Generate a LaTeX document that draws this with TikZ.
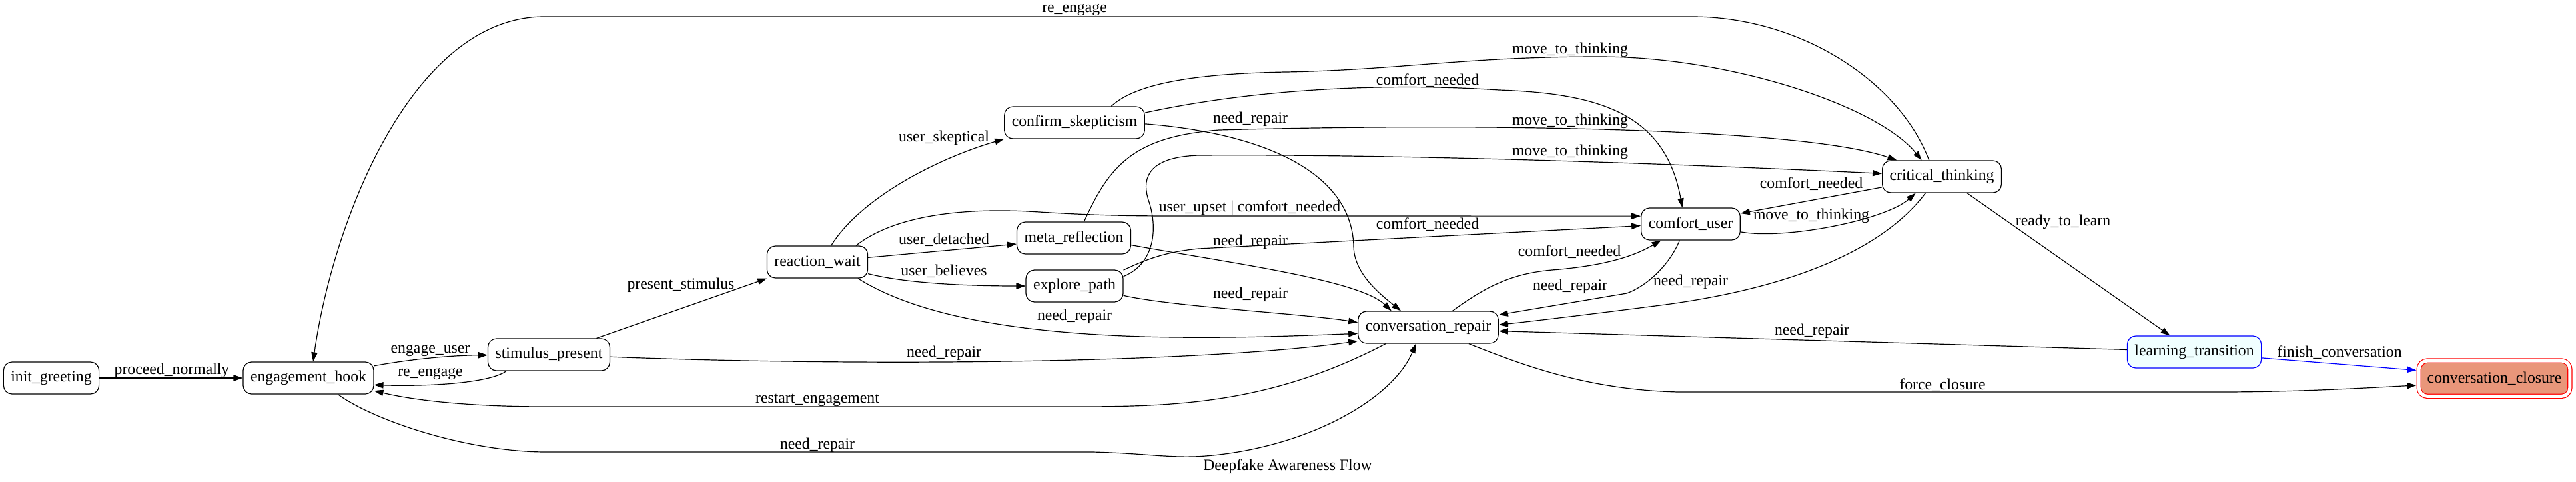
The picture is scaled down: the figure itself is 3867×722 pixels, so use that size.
\documentclass[tikz,border=0pt]{standalone}
\usepackage{fontspec}
\setmainfont{Liberation Serif}
\usetikzlibrary{arrows.meta}
\definecolor{dsalmon}{HTML}{E9967A}
\definecolor{azurefill}{HTML}{F0FFFF}
\newcommand\gvfont{\fontsize{17.8pt}{21pt}\selectfont}
\begin{document}
\begin{tikzpicture}[x=0.75pt,y=-0.75pt,
  stbox/.style={draw, rounded corners=9.5pt, minimum height=36pt, inner xsep=8.25pt, inner ysep=0pt, line width=0.9pt, font=\gvfont},
  conn/.style={draw, line width=0.9pt, -{Triangle[length=10.5pt,width=7pt]}},
  elab/.style={font=\gvfont, inner sep=0pt}]
\useasboundingbox (0,0) rectangle (3867,722);
% nodes
\node[stbox] (ig) at (77,567) {init\_greeting};
\node[stbox] (eh) at (463,567) {engagement\_hook};
\node[stbox] (sp) at (824,532) {stimulus\_present};
\node[stbox] (rw) at (1227,393) {reaction\_wait};
\node[stbox] (cs) at (1613,184) {confirm\_skepticism};
\node[stbox] (mr) at (1612,357) {meta\_reflection};
\node[stbox] (ep) at (1613,429) {explore\_path};
\node[stbox] (cr) at (2144,491) {conversation\_repair};
\node[stbox] (cu) at (2538,336) {comfort\_user};
\node[stbox] (ct) at (2915,265) {critical\_thinking};
\node[stbox, draw=blue, fill=azurefill] (lt) at (3294,528) {learning\_transition};
\node[stbox, draw=red, fill=dsalmon, double=white, double distance=3.75pt, minimum width=170pt, minimum height=40pt, outer sep=2.8pt] (cc) at (3744.5,567.7) {conversation\_closure};
% edges
\draw[conn] (ig) -- (eh);
\draw[conn] (eh) .. controls (620,538) and (680,533) .. (sp);
\draw[conn] (sp.201) .. controls (735,575) and (640,580) .. (eh.-6);
\draw[conn] (cr.201) .. controls (1900,610) and (1750,610) .. (1600,610) -- (820,610) .. controls (700,610) and (620,600) .. (eh.-11);
\draw[conn] (eh.-29) .. controls (560,630) and (700,678) .. (820,678) -- (1640,678) .. controls (1720,680) and (1760,688) .. (1810,684) .. controls (1960,672) and (2090,600) .. (cr.233);
\draw[conn] (ct.128) .. controls (2850,120) and (2700,25) .. (2540,25) -- (817,25) .. controls (620,25) and (500,330) .. (eh.74);
\draw[conn] (sp.19) -- (rw.198);
\draw[conn] (sp.-2) .. controls (1300,550) and (1800,545) .. (cr.191);
\draw[conn] (rw.50) .. controls (1290,300) and (1400,240) .. (cs.193);
\draw[conn] (rw.23) .. controls (1340,325) and (1440,310) .. (1560,318) .. controls (1640,323) and (1700,324) .. (1760,324) -- (cu.171);
\draw[conn] (rw.5) -- (mr.186);
\draw[conn] (rw.-13) .. controls (1360,425) and (1450,429) .. (ep.west);
\draw[conn] (rw.-22) .. controls (1450,520) and (1800,510) .. (cr.185);
\draw[conn] (cs.24) .. controls (1710,120) and (1820,110) .. (1930,108) .. controls (2100,105) and (2200,85) .. (2400,85) .. controls (2600,85) and (2820,160) .. (ct.141);
\draw[conn] (cs.8) .. controls (1900,130) and (2100,125) .. (2250,135) .. controls (2400,140) and (2500,170) .. (cu.117);
\draw[conn] (cs.-1) .. controls (1900,200) and (2030,260) .. (2032,370) .. controls (2033,410) and (2070,440) .. (cr.149);
\draw[conn] (mr.58) .. controls (1665,250) and (1700,205) .. (1830,195) .. controls (2200,185) and (2700,190) .. (ct.160);
\draw[conn] (mr.-7) .. controls (1850,395) and (2040,420) .. (cr.156);
\draw[conn] (ep.11) .. controls (1735,395) and (1738,340) .. (1724,300) .. controls (1712,262) and (1730,235) .. (1800,233) .. controls (2100,231) and (2500,245) .. (ct.177);
\draw[conn] (ep.18) .. controls (1715,392) and (1745,378) .. (1800,373) -- (cu.182);
\draw[conn] (ep.-11) .. controls (1760,460) and (1950,470) .. (cr.176);
\draw[conn] (cr.34) .. controls (2230,430) and (2270,410) .. (2330,405) .. controls (2420,398) and (2460,380) .. (cu.209);
\draw[conn] (cu.236) .. controls (2505,400) and (2470,430) .. (2442,440) -- (cr.10);
\draw[conn] (ct.190) -- (cu.12);
\draw[conn] (cu.-9) .. controls (2680,360) and (2830,330) .. (ct.212);
\draw[conn] (ct.-33) -- (lt.146);
\draw[conn] (ct.225) .. controls (2830,370) and (2700,430) .. (2500,457) .. controls (2400,470) and (2300,482) .. (cr.2);
\draw[conn] (lt.178) -- (cr.-3);
\draw[conn, blue] (lt.-5) -- (cc.174);
\draw[conn] (cr.-22) .. controls (2280,545) and (2380,585) .. (2520,588) -- (3330,588) .. controls (3450,588) and (3550,582) .. (cc.185);
% labels
\node[elab] (l1) at (258,556) {proceed\_normally};
\node[elab] (l2) at (646,526) {engage\_user};
\node[elab] (l3) at (646,561) {re\_engage};
\node[elab] (l4) at (1227,600) {restart\_engagement};
\node[elab] (l5) at (1227,668) {need\_repair};
\node[elab] (l6) at (1613,15) {re\_engage};
\node[elab] (l7) at (1022,428) {present\_stimulus};
\node[elab] (l8) at (1417,530) {need\_repair};
\node[elab] (l9) at (1417,207) {user\_skeptical};
\node[elab] (l10) at (1876,312) {user\_upset | comfort\_needed};
\node[elab] (l11) at (1417,360) {user\_detached};
\node[elab] (l12) at (1417,407) {user\_believes};
\node[elab] (l13) at (1613,475) {need\_repair};
\node[elab] (l14) at (2357,75) {move\_to\_thinking};
\node[elab] (l15) at (2143,121) {comfort\_needed};
\node[elab] (l16) at (1877,179) {need\_repair};
\node[elab] (l17) at (2357,182) {move\_to\_thinking};
\node[elab] (l18) at (1877,363) {need\_repair};
\node[elab] (l19) at (2357,228) {move\_to\_thinking};
\node[elab] (l20) at (2143,337) {comfort\_needed};
\node[elab] (l21) at (1877,442) {need\_repair};
\node[elab] (l22) at (2356,378) {comfort\_needed};
\node[elab] (l23) at (2357,430) {need\_repair};
\node[elab] (l24) at (2719,276) {comfort\_needed};
\node[elab] (l25) at (2719,324) {move\_to\_thinking};
\node[elab] (l26) at (3097,333) {ready\_to\_learn};
\node[elab] (l27) at (2538,423) {need\_repair};
\node[elab] (l28) at (2720,497) {need\_repair};
\node[elab] (l29) at (3512,529) {finish\_conversation};
\node[elab] (l30) at (2916,578) {force\_closure};
\node[elab] (title) at (1933,700) {Deepfake Awareness Flow};
\end{tikzpicture}
\end{document}
